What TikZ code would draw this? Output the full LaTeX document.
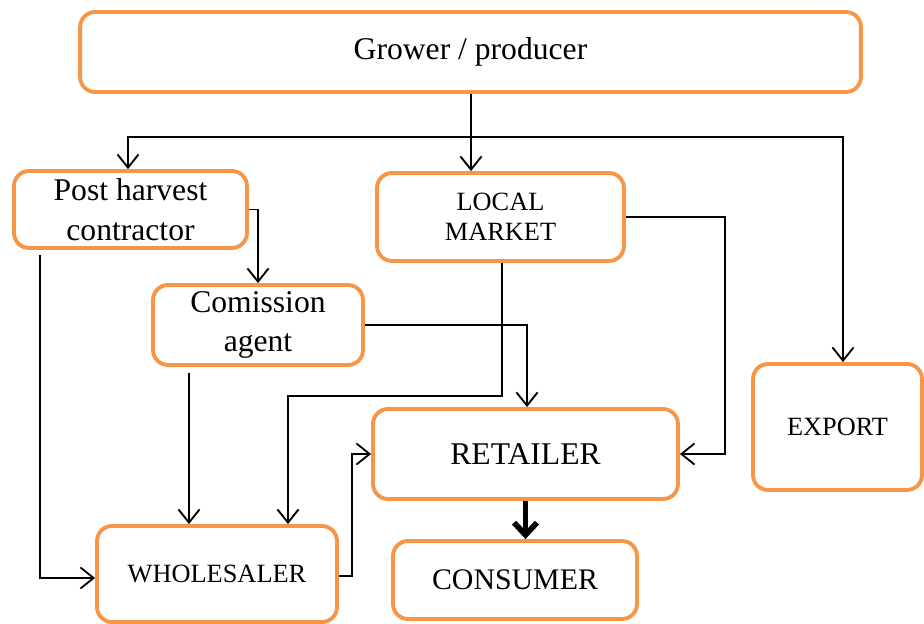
\documentclass[tikz,border=0pt]{standalone}
\usepackage{fontspec}
\setmainfont{Liberation Serif}
\usetikzlibrary{arrows.meta}
\definecolor{boxorange}{HTML}{F79646}
\begin{document}
\begin{tikzpicture}[x=0.02cm,y=-0.02cm,
 box/.style={draw=boxorange, line width=2.2pt, rounded corners=0.3cm, align=center, inner sep=0pt, fill=white},
 arr/.style={line width=1.05pt, -{Straight Barb[length=7.5pt,width=12pt]}},
 big/.style={font=\fontsize{18}{23}\selectfont},
 mid/.style={font=\fontsize{15}{17}\selectfont}]
\useasboundingbox (0,0) rectangle (924,624);
\node[box,big,minimum width=15.62cm,minimum height=1.6cm] (grower) at (470.5,52) {Grower / producer};
\node[box,big,minimum width=4.66cm,minimum height=1.54cm] (post) at (130.5,209.5) {Post harvest\\contractor};
\node[box,mid,minimum width=4.94cm,minimum height=1.76cm] (local) at (500.5,217) {LOCAL\\MARKET};
\node[box,big,font=\fontsize{18}{22}\selectfont,minimum width=4.2cm,minimum height=1.6cm] (agent) at (258,325) {Comission\\agent};
\node[box,big,minimum width=6.1cm,minimum height=1.8cm] (retailer) at (525.5,454) {RETAILER};
\node[box,mid,minimum width=3.38cm,minimum height=2.52cm] (export) at (837.5,427) {EXPORT};
\node[box,mid,minimum width=4.8cm,minimum height=1.92cm] (wholesaler) at (217,574) {WHOLESALER};
\node[box,font=\fontsize{17}{20}\selectfont,minimum width=4.88cm,minimum height=1.56cm] (consumer) at (515,580) {CONSUMER};

\coordinate (j) at (471,137);
\draw[arr] (grower.south -| j) -- (local.north -| j);
\draw[arr] (j) -| ([xshift=-0.05cm]post.north);
\draw[arr] (j) -| ([xshift=0.11cm]export.north);
\draw[arr] (post.east) -| (agent.north);
\coordinate (p) at (40,255);
\draw[arr] (p) |- ([yshift=-0.08cm]wholesaler.west);
\coordinate (a) at (189,373);
\draw[arr] (a) -- (a |- wholesaler.north);
\draw[arr] (agent.east) -| ([xshift=0.03cm]retailer.north);
\coordinate (k) at (288,396);
\draw[arr] ([xshift=0.03cm]local.south) |- (k) -- (k |- wholesaler.north);
\coordinate (m) at (725,0);
\draw[arr] (local.east) -| (m |- retailer.east) -- (retailer.east);
\coordinate (n) at (352,0);
\draw[arr] ([yshift=-0.04cm]wholesaler.east) -| (n |- retailer.west) -- (retailer.west);
\draw[line width=3.2pt, -{Straight Barb[length=7pt,width=13pt]}] (retailer.south) -- (retailer.south |- consumer.north);
\end{tikzpicture}
\end{document}
